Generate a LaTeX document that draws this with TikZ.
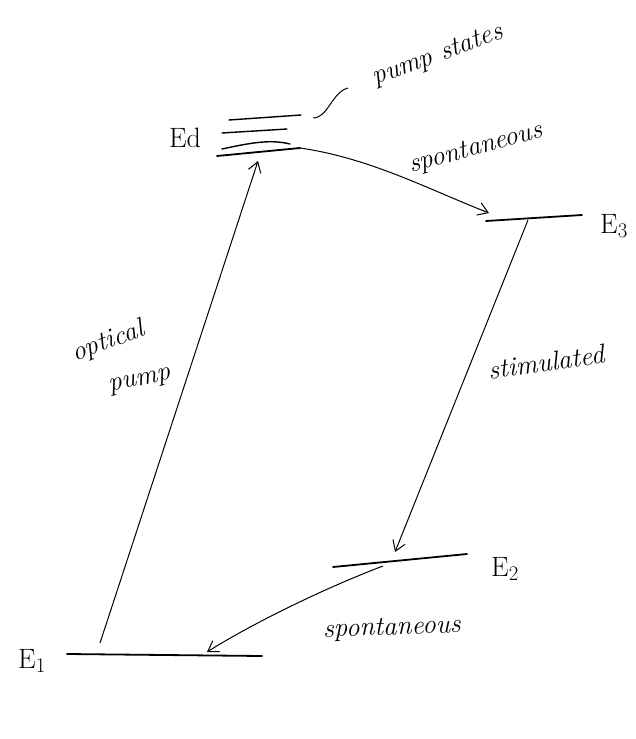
\documentclass[tikz,border=0pt]{standalone}
\usetikzlibrary{arrows.meta}
\begin{document}
\begin{tikzpicture}[x=1pt,y=-1pt,
  level/.style={line width=1.8pt,line cap=round},
  thinlevel/.style={line width=1.4pt,line cap=round},
  trans/.style={line width=1pt,-{Straight Barb[length=10pt,width=13pt,line width=1pt]}},
  lead/.style={line width=1pt},
  lbl/.style={font=\itshape\fontsize{27}{29}\selectfont,inner sep=0pt},
  elbl/.style={font=\fontsize{28}{30}\selectfont,inner sep=0pt}]
\useasboundingbox (0,0) rectangle (636,739);
% level end points
\coordinate (p1a) at (229,120); \coordinate (p1b) at (301,115);
\coordinate (p2a) at (222,133); \coordinate (p2b) at (287,129);
\coordinate (p3a) at (222,149); \coordinate (p3b) at (290,144);
\coordinate (eda) at (217,156); \coordinate (edb) at (300,148);
\coordinate (e3a) at (486,221); \coordinate (e3b) at (582,215);
\coordinate (e2a) at (333,567); \coordinate (e2b) at (467,554);
\coordinate (e1a) at (67,654);  \coordinate (e1b) at (262,656);
% transition end points
\coordinate (opS) at (100,643); \coordinate (opT) at (258,161);
\coordinate (s1T) at (489,213);
\coordinate (stS) at (528,220); \coordinate (stT) at (395,552);
\coordinate (s2S) at (383,566); \coordinate (s2T) at (207,652);
\coordinate (ldA) at (313,118); \coordinate (ldB) at (348,88);
% levels
\draw[thinlevel] (p1a) -- (p1b);
\draw[thinlevel] (p2a) -- (p2b);
\draw[thinlevel] (p3a) .. controls (250,143) and (270,139) .. (p3b);
\draw[level] (eda) -- (edb);
\draw[level] (e3a) -- (e3b);
\draw[level] (e2a) -- (e2b);
\draw[level] (e1a) -- (e1b);
% transitions
\draw[trans] (opS) -- (opT);
\draw[trans] (edb) .. controls (370,158) and (430,190) .. (s1T);
\draw[trans] (stS) -- (stT);
\draw[trans] (s2S) .. controls (320,590) and (250,625) .. (s2T);
\draw[lead] (ldA) .. controls (328,118) and (332,92) .. (ldB);
% labels
\node[elbl] (edl) at (185,138) {Ed};
\node[elbl] (e3l) at (614,226) {E$_3$};
\node[elbl] (e2l) at (505,569) {E$_2$};
\node[elbl] (e1l) at (32,661) {E$_1$};
\node[lbl,rotate=20] (psl) at (438,56) {pump states};
\node[lbl,rotate=15] (sp1) at (476,149) {spontaneous};
\node[lbl,rotate=8] (stl) at (546,362) {stimulated};
\node[lbl,rotate=2] (sp2) at (392,629) {spontaneous};
\node[lbl,rotate=20] (opl1) at (108,342) {optical};
\node[lbl,rotate=12] (opl2) at (140,382) {pump};
\end{tikzpicture}
\end{document}
